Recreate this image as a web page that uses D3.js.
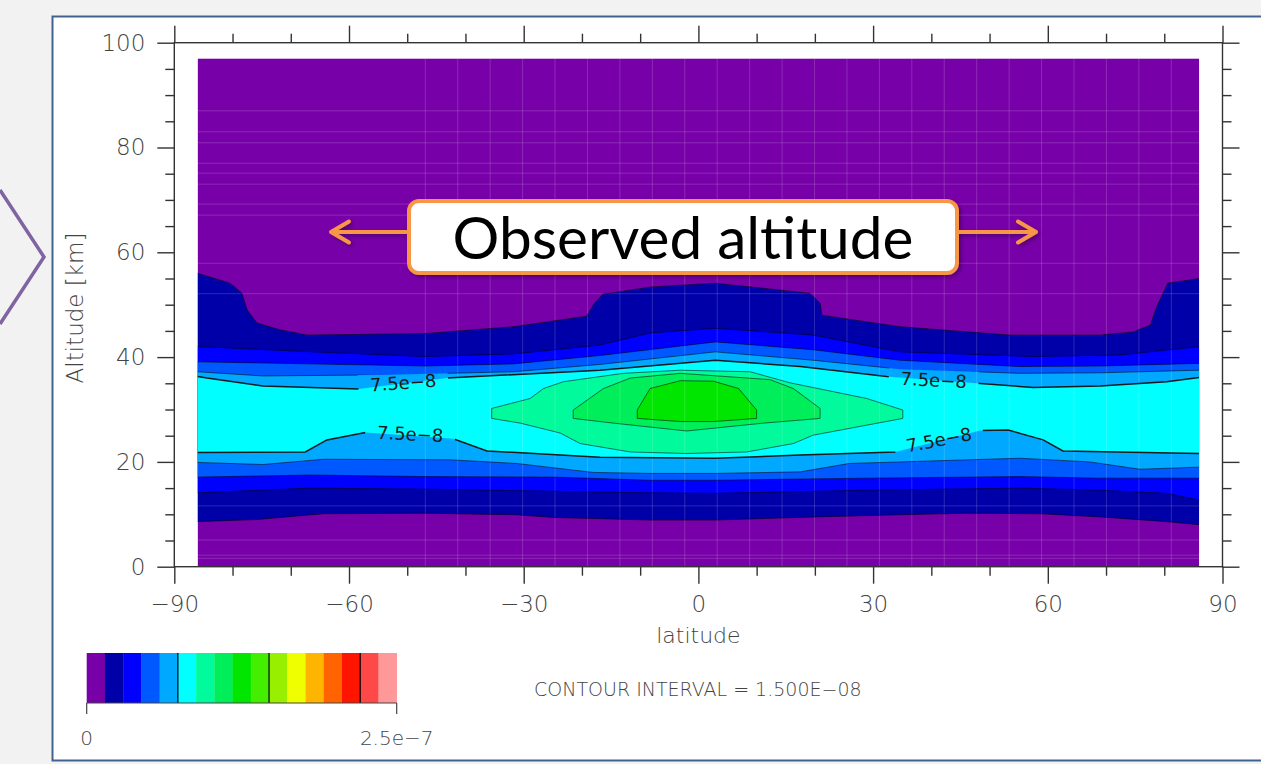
<!DOCTYPE html>
<html>
<head>
<meta charset="utf-8">
<script src="https://cdn.jsdelivr.net/npm/d3@7"></script>
<style>
  body { margin: 0; background: #f2f2f2; }
  svg { display: block; }
</style>
</head>
<body>
<svg id="chart" width="1261" height="764"></svg>
<script>
// ticks
const latMajor = [-90, -60, -30, 0, 30, 60, 90];
const latMinor = [-80, -70, -50, -40, -20, -10, 10, 20, 40, 50, 70, 80];
const altMajor = [0, 20, 40, 60, 80, 100];
const altMinor = [5, 10, 15, 25, 30, 35, 45, 50, 55, 65, 70, 75, 85, 90, 95];

// colour table, one colour per 1.5e-8 interval (0 .. 2.5e-7)
const levelColors = ["#7800a8", "#0000a8", "#0000ff", "#0058ff", "#00a8ff", "#00ffff",
  "#00fa9c", "#00ee5a", "#00e600", "#44ee00", "#98f000", "#f0ff00", "#ffb400",
  "#ff6400", "#ff1400", "#ff4848", "#ff9898"];
const barLabels = ["0", "2.5e\u22127"];

// extent of the model grid
const dataLat = [-86, 86];
const dataAlt = [0, 97];

// contour boundaries, [lat, alt km]
// levels 1..5 span all latitudes (upper + lower edge)
const lvl1Upper = [[-86,56.0],[-80.4,54.1],[-78.4,52.2],[-77.5,49.0],[-75.8,46.5],[-71.8,45.2],[-67.2,44.2],[-46.9,44.5],[-31.8,45.8],[-19.2,47.8],[-17.9,50.2],[-16.4,52.0],[-8,53.4],[2.9,54.1],[19.1,52.2],[20.9,50.3],[21.2,48.0],[34.6,45.8],[53.5,44.2],[69.0,44.2],[74.6,44.8],[77.6,46.1],[78.7,49.6],[80.6,54.1],[86,55.0]];
const lvl1Lower = [[-86,8.6],[-75.8,9.0],[-64.4,10.1],[-46.9,10.2],[-31.2,9.9],[-24.9,9.4],[-8.3,8.9],[2.9,8.9],[20.3,9.5],[34.6,9.9],[46.1,10.2],[58.7,10.1],[69.0,9.5],[80.4,8.6],[86,8.0]];
const lvl2Upper = [[-86,42.0],[-66.2,41.0],[-46.9,40.1],[-31.8,40.6],[-16.9,42.3],[-8.3,44.6],[2.9,45.5],[19.7,44.2],[34.6,41.0],[57.5,40.1],[72.4,40.4],[86,42.0]];
const lvl2Lower = [[-86,14.1],[-66.7,15.0],[-46.9,14.8],[-24.9,14.4],[-8.3,14.1],[2.9,14.0],[28.9,14.6],[55.2,15.0],[69.0,14.6],[80.4,14.0],[86,12.7]];
const lvl3Upper = [[-86,39.1],[-46.9,38.3],[-31.8,38.7],[-16.9,40.3],[2.9,42.9],[19.7,41.4],[34.6,39.4],[55.2,38.2],[69.0,38.3],[86,38.8]];
const lvl3Lower = [[-86,17.1],[-66.7,17.5],[-46.9,17.2],[-24.9,17.1],[-8.3,16.5],[2.9,16.5],[28.9,16.9],[55.2,17.2],[69.0,16.9],[86,16.9]];
const lvl4Upper = [[-86,37.2],[-74.8,36.4],[-54.7,36.6],[-31.8,37.2],[-16.9,38.6],[2.9,41.0],[19.7,39.4],[34.6,37.7],[55.2,36.9],[69.0,37.0],[86,37.5]];
const lvl4Lower = [[-86,19.9],[-74.8,19.5],[-64.4,20.5],[-42.7,20.4],[-31.2,19.7],[-18.1,18.0],[-8.3,17.8],[2.9,17.8],[17.5,18.1],[25.9,19.7],[55.2,20.7],[67.2,20.0],[75.8,18.6],[86,19.0]];
const lvl5Upper = [[-86,36.3],[-84.4,36.0],[-74.8,34.5],[-58.4,33.9],[-43.2,36.0],[-16.9,37.5],[2.9,39.4],[17.5,38.2],[32.3,36.3],[47.8,35.0],[57.5,34.2],[69.0,34.5],[80.4,35.3],[86,36.1]];
const lvl5Lower = [[-86,21.8],[-67.5,21.9],[-63.8,24.2],[-57.2,25.6],[-42.1,24.4],[-36.3,22.1],[-16.9,20.9],[2.9,20.7],[17.5,21.3],[33.8,21.9],[48.4,26.0],[53.2,26.1],[59.2,24.2],[62.6,22.1],[86,21.6]];
// levels 6..8 are closed around the equatorial maximum
const lvl6Ring = [[-35.5,30.2],[-28.9,32.1],[-26.6,34.0],[-23.2,35.3],[-12.9,36.9],[-3.1,37.5],[8.9,37.2],[15.7,35.1],[28.9,32.1],[35.1,29.9],[35.1,28.3],[19.7,25.1],[16.3,23.5],[8.3,21.9],[-2.0,21.6],[-11.7,21.9],[-20.3,23.5],[-23.7,25.5],[-30.6,27.4],[-35.5,28.3]];
const lvl7Ring = [[-21.5,29.9],[-16.3,34.0],[-11.7,36.0],[-3.1,36.9],[12.3,35.7],[16.3,34.0],[20.9,30.2],[20.9,28.3],[11.2,27.4],[-2.0,25.9],[-14.6,27.4],[-21.5,28.3]];
const lvl8Ring = [[-10.5,29.9],[-8.3,34.0],[-3.1,35.5],[2.6,35.4],[6.9,34.0],[10.0,29.9],[10.0,28.3],[2.6,27.7],[-3.1,27.7],[-10.5,28.3]];

// labels on the 7.5e-8 line
const lineLabels = [
  { text: "7.5e\u22128", lat: -50.7, alt: 35.1, angle: -4 },
  { text: "7.5e\u22128", lat: -49.5, alt: 25.3, angle: 3 },
  { text: "7.5e\u22128", lat: 40.4, alt: 35.6, angle: 3 },
  { text: "7.5e\u22128", lat: 41.3, alt: 24.2, angle: -11 }
];

// faint raster seams visible in the original render
const seamAlts = [87.0, 83.0, 80.9, 77.0, 75.1, 73.0, 69.2, 67.1, 57.9, 52.1, 11.6, 5.1, 2.2, 1.6];

const spanning = [
  { up: lvl1Upper, lo: lvl1Lower, lvl: 1 },
  { up: lvl2Upper, lo: lvl2Lower, lvl: 2 },
  { up: lvl3Upper, lo: lvl3Lower, lvl: 3 },
  { up: lvl4Upper, lo: lvl4Lower, lvl: 4 },
  { up: lvl5Upper, lo: lvl5Lower, lvl: 5 }
];
const rings = [
  { ring: lvl6Ring, lvl: 6 },
  { ring: lvl7Ring, lvl: 7 },
  { ring: lvl8Ring, lvl: 8 }
];

const svg = d3.select("#chart");
const defs = svg.append("defs");
const FONT = "'DejaVu Sans', sans-serif";

const x = d3.scaleLinear().domain([-90, 90]).range([174.3, 1222.5]);
const y = d3.scaleLinear().domain([0, 100]).range([566.7, 42.7]);

// slide background + panel
svg.append("rect").attr("width", 1261).attr("height", 764).attr("fill", "#f2f2f2");
svg.append("path").attr("d", "M0,190 L44,257 L0,324")
  .attr("fill", "none").attr("stroke", "#8064a2").attr("stroke-width", 3.5);
svg.append("rect").attr("x", 52.5).attr("y", 16.5).attr("width", 1230).attr("height", 744)
  .attr("fill", "#fff").attr("stroke", "#41628f").attr("stroke-width", 2);

// clip for data
defs.append("clipPath").attr("id", "dataClip").append("rect")
  .attr("x", x(dataLat[0])).attr("y", y(dataAlt[1]))
  .attr("width", x(dataLat[1]) - x(dataLat[0])).attr("height", y(dataAlt[0]) - y(dataAlt[1]));

const plot = svg.append("g").attr("clip-path", "url(#dataClip)");
plot.append("rect")
  .attr("x", x(dataLat[0])).attr("y", y(dataAlt[1]))
  .attr("width", x(dataLat[1]) - x(dataLat[0])).attr("height", y(dataAlt[0]) - y(dataAlt[1]))
  .attr("fill", levelColors[0]);

const line = d3.line().x(d => x(d[0])).y(d => y(d[1]));
const ringLine = d3.line().x(d => x(d[0])).y(d => y(d[1])).curve(d3.curveLinearClosed);

spanning.forEach(s => {
  plot.append("path")
    .attr("d", ringLine(s.up.concat(s.lo.slice().reverse())))
    .attr("fill", levelColors[s.lvl]);
});
rings.forEach(r => {
  plot.append("path").attr("d", ringLine(r.ring)).attr("fill", levelColors[r.lvl]);
});

// seams
const seams = plot.append("g").attr("stroke", "#fff").attr("stroke-opacity", 0.16).attr("stroke-width", 1);
seamAlts.forEach(a => {
  seams.append("line").attr("x1", x(dataLat[0])).attr("x2", x(dataLat[1]))
    .attr("y1", y(a)).attr("y2", y(a));
});
d3.range(-46.9, 86, 5.57).forEach(l => {
  seams.append("line").attr("x1", x(l)).attr("x2", x(l))
    .attr("y1", y(dataAlt[0])).attr("y2", y(dataAlt[1]));
});

// mask for label gaps
const mask = defs.append("mask").attr("id", "lblMask").attr("maskUnits", "userSpaceOnUse")
  .attr("x", 0).attr("y", 0).attr("width", 1261).attr("height", 764);
mask.append("rect").attr("width", 1261).attr("height", 764).attr("fill", "#fff");
lineLabels.forEach(l => {
  mask.append("rect").attr("x", -45).attr("y", -11).attr("width", 90).attr("height", 22)
    .attr("fill", "#000")
    .attr("transform", `translate(${x(l.lat)},${y(l.alt)}) rotate(${l.angle})`);
});

// contour lines
const lines = plot.append("g").attr("fill", "none").attr("mask", "url(#lblMask)");
spanning.forEach(s => {
  const strong = s.lvl === 5;
  [s.up, s.lo].forEach(b => {
    lines.append("path").attr("d", line(b))
      .attr("stroke", strong ? "#111" : "#000")
      .attr("stroke-opacity", strong ? 0.95 : 0.6)
      .attr("stroke-width", strong ? 1.5 : 0.9);
  });
});
rings.forEach(r => {
  lines.append("path").attr("d", ringLine(r.ring))
    .attr("stroke", "#000").attr("stroke-opacity", 0.6).attr("stroke-width", 0.9);
});

lineLabels.forEach(l => {
  plot.append("text")
    .attr("transform", `translate(${x(l.lat)},${y(l.alt)}) rotate(${l.angle})`)
    .attr("text-anchor", "middle").attr("dy", "0.35em")
    .attr("font-family", FONT).attr("font-size", 18).attr("fill", "#1a1a1a")
    .text(l.text);
});

// frame and axes
const axisCol = "#333";
svg.append("rect").attr("x", x(-90)).attr("y", y(100))
  .attr("width", x(90) - x(-90)).attr("height", y(0) - y(100))
  .attr("fill", "none").attr("stroke", axisCol).attr("stroke-width", 1.4);

function styleAxis(g) {
  g.select(".domain").remove();
  g.selectAll(".tick line").attr("stroke", axisCol).attr("stroke-width", 1.4);
  g.selectAll(".tick text").attr("fill", "#444").attr("font-family", FONT)
    .attr("font-size", 23).attr("font-weight", 300);
}
const fmt = d => d < 0 ? "\u2212" + Math.abs(d) : String(d);

svg.append("g").attr("transform", `translate(0,${y(0)})`)
  .call(d3.axisBottom(x).tickValues(latMajor).tickSize(17).tickPadding(12).tickFormat(fmt)).call(styleAxis);
svg.append("g").attr("transform", `translate(0,${y(0)})`)
  .call(d3.axisBottom(x).tickValues(latMinor).tickSize(9).tickFormat("")).call(styleAxis);
svg.append("g").attr("transform", `translate(0,${y(100)})`)
  .call(d3.axisTop(x).tickValues(latMajor).tickSize(17).tickFormat("")).call(styleAxis);
svg.append("g").attr("transform", `translate(0,${y(100)})`)
  .call(d3.axisTop(x).tickValues(latMinor).tickSize(9).tickFormat("")).call(styleAxis);
svg.append("g").attr("transform", `translate(${x(-90)},0)`)
  .call(d3.axisLeft(y).tickValues(altMajor).tickSize(17).tickPadding(12)).call(styleAxis);
svg.append("g").attr("transform", `translate(${x(-90)},0)`)
  .call(d3.axisLeft(y).tickValues(altMinor).tickSize(9).tickFormat("")).call(styleAxis);
svg.append("g").attr("transform", `translate(${x(90)},0)`)
  .call(d3.axisRight(y).tickValues(altMajor).tickSize(17).tickFormat("")).call(styleAxis);
svg.append("g").attr("transform", `translate(${x(90)},0)`)
  .call(d3.axisRight(y).tickValues(altMinor).tickSize(9).tickFormat("")).call(styleAxis);

svg.append("text").attr("x", x(0)).attr("y", 643).attr("text-anchor", "middle")
  .attr("font-family", FONT).attr("font-weight", 300).attr("font-size", 22).attr("fill", "#444")
  .text("latitude");
svg.append("text").attr("transform", "translate(83,308) rotate(-90)").attr("text-anchor", "middle")
  .attr("font-family", FONT).attr("font-weight", 300).attr("font-size", 23).attr("fill", "#444")
  .text("Altitude [km]");

// colour bar
const cb = d3.scaleBand().domain(d3.range(levelColors.length)).range([86.7, 396.7]);
const cbTop = 653, cbBot = 703;
svg.append("g").selectAll("rect").data(levelColors).join("rect")
  .attr("x", (d, i) => cb(i)).attr("y", cbTop).attr("width", cb.bandwidth() + 0.3).attr("height", cbBot - cbTop)
  .attr("fill", d => d);
[5, 10, 15].forEach(i => {
  svg.append("line").attr("x1", cb(i)).attr("x2", cb(i)).attr("y1", cbTop).attr("y2", cbBot)
    .attr("stroke", "#000").attr("stroke-width", 1.2);
});
svg.append("line").attr("x1", 86.7).attr("x2", 396.7).attr("y1", cbBot).attr("y2", cbBot)
  .attr("stroke", "#444").attr("stroke-width", 1);
[86.7, 396.7].forEach((px, i) => {
  svg.append("line").attr("x1", px).attr("x2", px).attr("y1", cbBot).attr("y2", cbBot + 11)
    .attr("stroke", "#444").attr("stroke-width", 1.2);
  svg.append("text").attr("x", px).attr("y", 745).attr("text-anchor", "middle")
    .attr("font-family", FONT).attr("font-weight", 300).attr("font-size", 20).attr("fill", "#444")
    .text(barLabels[i]);
});

svg.append("text").attr("x", 534).attr("y", 696)
  .attr("font-family", FONT).attr("font-weight", 300).attr("font-size", 19).attr("fill", "#444")
  .text("CONTOUR INTERVAL = 1.500E\u221208");

// callout box
const sh = defs.append("filter").attr("id", "shadow").attr("x", "-10%").attr("y", "-30%")
  .attr("width", "120%").attr("height", "160%");
sh.append("feDropShadow").attr("dx", 2).attr("dy", 2).attr("stdDeviation", 2)
  .attr("flood-color", "#000").attr("flood-opacity", 0.35);

const orange = "#f79646";
const call = svg.append("g").attr("filter", "url(#shadow)");
call.append("path").attr("d", "M408,232 L331,232 M349,221.5 L331,232 L349,242.5")
  .attr("fill", "none").attr("stroke", orange).attr("stroke-width", 4)
  .attr("stroke-linecap", "round").attr("stroke-linejoin", "round");
call.append("path").attr("d", "M958,232 L1036,232 M1018,221.5 L1036,232 L1018,242.5")
  .attr("fill", "none").attr("stroke", orange).attr("stroke-width", 4)
  .attr("stroke-linecap", "round").attr("stroke-linejoin", "round");
call.append("rect").attr("x", 409).attr("y", 201).attr("width", 548).attr("height", 72).attr("rx", 10)
  .attr("fill", "#fff").attr("stroke", orange).attr("stroke-width", 4);
const title = svg.append("text").attr("x", 683).attr("y", 259).attr("text-anchor", "middle")
  .attr("font-family", "Lato, 'Open Sans', sans-serif").attr("font-size", 55).attr("fill", "#000")
  .text("Observed altitude");
const tw = title.node().getComputedTextLength();
title.attr("font-size", 55 * 461 / tw);
</script>
</body>
</html>
